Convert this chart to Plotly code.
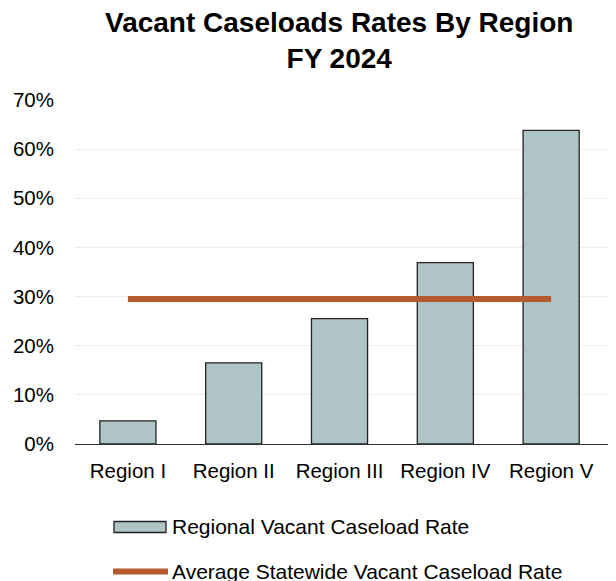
import plotly.graph_objects as go

regions = ["Region I", "Region II", "Region III", "Region IV", "Region V"]
regional_rate = [0.047, 0.165, 0.255, 0.369, 0.638]
statewide_avg = [0.295, 0.295, 0.295, 0.295, 0.295]

bar_color = "#AFC4C5"
line_color = "#B35B2E"
FONT = "Liberation Sans, Arial, sans-serif"

# page has 8px body margin; figure sized to fill the window
W, H = 608, 573
L, R, T, B = 67, 0, 92, 137
PW, PH = W - L - R, H - T - B

def px(page_x):
    return (page_x - 8 - L) / PW

def py(page_y):
    return (H - B - (page_y - 8)) / PH

fig = go.Figure()
fig.add_trace(go.Bar(
    x=regions, y=regional_rate, name="Regional Vacant Caseload Rate",
    marker=dict(color=bar_color, line=dict(color="#222222", width=1.3)),
    showlegend=False,
))
fig.add_trace(go.Scatter(
    x=regions, y=statewide_avg, name="Average Statewide Vacant Caseload Rate",
    mode="lines", line=dict(color=line_color, width=6), showlegend=False,
))

shapes = [
    dict(type="rect", xref="paper", yref="paper",
         x0=px(114), x1=px(166), y0=py(532.5), y1=py(521.5),
         fillcolor=bar_color, line=dict(color="#222222", width=1.3)),
    dict(type="line", xref="paper", yref="paper",
         x0=px(113), x1=px(168), y0=py(571.5), y1=py(571.5),
         line=dict(color=line_color, width=6)),
]
annotations = [
    dict(text="<b>Vacant Caseloads Rates By Region<br>FY 2024</b>",
         xref="paper", yref="paper", x=px(339), y=py(40.5),
         xanchor="center", yanchor="middle", showarrow=False,
         font=dict(size=28, color="#000", family=FONT)),
    dict(text="Regional Vacant Caseload Rate", xref="paper", yref="paper",
         x=px(170), y=py(526), xanchor="left", yanchor="middle",
         showarrow=False, font=dict(size=21, color="#000", family=FONT)),
    dict(text="Average Statewide Vacant Caseload Rate", xref="paper", yref="paper",
         x=px(170), y=py(571), xanchor="left", yanchor="middle",
         showarrow=False, font=dict(size=21, color="#000", family=FONT)),
]

fig.update_layout(
    width=W, height=H,
    margin=dict(l=L, r=R, t=T, b=B),
    paper_bgcolor="white", plot_bgcolor="white",
    bargap=0.47,
    shapes=shapes, annotations=annotations,
    showlegend=False,
    font=dict(family=FONT, color="#000"),
)
fig.update_xaxes(range=[-0.5, 4.613], showline=True, linecolor="#333333", linewidth=1.3,
                 ticks="", tickfont=dict(size=20.5, color="#000"), ticklabelstandoff=8)
fig.update_yaxes(range=[0, 0.7], dtick=0.1, tickformat=".0%", showgrid=True,
                 gridcolor="#EDEDE8", gridwidth=1.3, zeroline=False, showline=False,
                 tickfont=dict(size=20.5, color="#000"), ticklabelstandoff=20)

fig.write_html("out.html")
